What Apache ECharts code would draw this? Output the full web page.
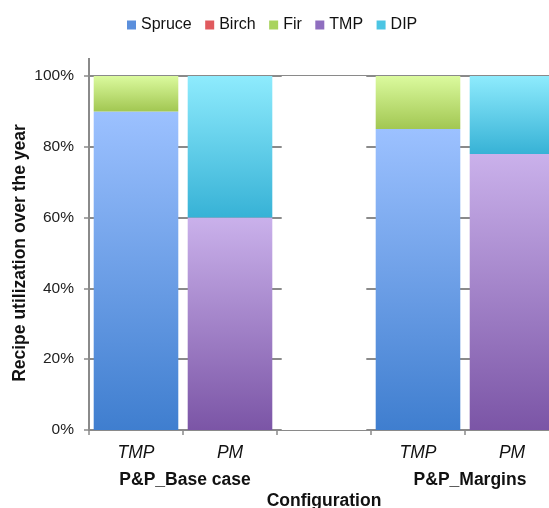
<!DOCTYPE html>
<html>
<head>
<meta charset="utf-8">
<script src="https://cdn.jsdelivr.net/npm/echarts@6/dist/echarts.min.js"></script>
<style>
  html, body { margin: 0; padding: 0; background: #fff; }
  #chart { width: 549px; height: 508px; }
</style>
</head>
<body>
<div id="chart"></div>
<script>
// Recipe utilization (% of the year) per configuration and pulp line
const categories = ['TMP', 'PM', '', 'TMP', 'PM'];
const spruce = [90, 0, 0, 85, 0];
const birch  = [0, 0, 0, 0, 0];
const fir    = [10, 0, 0, 15, 0];
const tmp    = [0, 60, 0, 0, 78];
const dip    = [0, 40, 0, 0, 22];
// blank column separating the two configurations
const spacer = [0, 0, 100, 0, 0];
const yTicks = [0, 20, 40, 60, 80, 100];
const groups = ['P&P_Base case', 'P&P_Margins'];

const FONT = '"Liberation Sans", Arial, sans-serif';

function grad(top, bottom) {
  return new echarts.graphic.LinearGradient(0, 0, 0, 1, [
    { offset: 0, color: top },
    { offset: 1, color: bottom }
  ]);
}

const shadow = { shadowBlur: 5, shadowColor: 'rgba(0,0,0,0.32)', shadowOffsetX: 0, shadowOffsetY: 0 };

function bar(name, data, top, bottom, withShadow) {
  return {
    name: name,
    type: 'bar',
    stack: 'total',
    barCategoryGap: '10%',
    data: data.map(v => (v === 0 ? null : v)),
    itemStyle: Object.assign({ color: grad(top, bottom) }, withShadow ? shadow : {}),
    emphasis: { disabled: true }
  };
}

const chart = echarts.init(document.getElementById('chart'), null, { renderer: 'canvas' });

const option = {
  animation: false,
  textStyle: { fontFamily: FONT },
  legend: {
    left: 122,
    top: 12,
    icon: 'rect',
    itemWidth: 9,
    itemHeight: 9,
    itemGap: 13.5,
    textStyle: { fontSize: 16, color: '#111', fontFamily: FONT },
    data: [
      { name: 'Spruce', itemStyle: { color: '#5b8fdc' } },
      { name: 'Birch',  itemStyle: { color: '#e05a5e' } },
      { name: 'Fir',    itemStyle: { color: '#a9d35e' } },
      { name: 'TMP',    itemStyle: { color: '#8f6ebf' } },
      { name: 'DIP',    itemStyle: { color: '#4cc5e3' } }
    ]
  },
  // the last column runs past the right edge of the canvas
  grid: { left: 89, right: -10, top: 76, bottom: 78, containLabel: false, outerBoundsMode: 'none' },
  xAxis: {
    type: 'category',
    data: categories,
    name: 'Configuration',
    nameLocation: 'middle',
    nameGap: 62,
    nameMoveOverlap: false,
    nameTextStyle: { fontSize: 17.5, fontWeight: 'bold', color: '#111', fontFamily: FONT, verticalAlign: 'top' },
    axisLine: { lineStyle: { color: '#8a8a8a', width: 2 } },
    axisTick: { show: true, length: 5, alignWithLabel: false, lineStyle: { color: '#8a8a8a', width: 1.5 } },
    axisLabel: { fontSize: 17.5, fontStyle: 'italic', color: '#111', margin: 14, fontFamily: FONT, interval: 0 }
  },
  yAxis: {
    type: 'value',
    min: 0,
    max: 100,
    interval: 20,
    name: 'Recipe utilization over the year',
    nameLocation: 'middle',
    nameGap: 60,
    nameMoveOverlap: false,
    nameRotate: 90,
    nameTextStyle: { fontSize: 17.5, fontWeight: 'bold', color: '#111', fontFamily: FONT },
    axisLine: { show: true, lineStyle: { color: '#8a8a8a', width: 2 } },
    axisTick: { show: true, length: 5, lineStyle: { color: '#8a8a8a', width: 1.5 } },
    axisLabel: { fontSize: 15.5, color: '#222', margin: 15, fontFamily: FONT,
                 formatter: v => (yTicks.indexOf(v) >= 0 ? v + '%' : '') },
    splitLine: { show: true, lineStyle: { color: '#8a8a8a', width: 2 } }
  },
  series: [
    bar('Spruce', spruce, '#9cc1ff', '#3f7ecf', true),
    bar('Birch',  birch,  '#f5a0a2', '#c9403f', true),
    bar('Fir',    fir,    '#dbfa9e', '#a2c752', true),
    bar('TMP',    tmp,    '#cab1eb', '#7b55a6', true),
    bar('DIP',    dip,    '#8eebfd', '#37b2d6', true),
    {
      name: 'spacer',
      type: 'bar',
      stack: 'total',
      barCategoryGap: '10%',
      data: spacer.map(v => (v === 0 ? null : v)),
      itemStyle: { color: '#ffffff' },
      emphasis: { disabled: true },
      silent: true
    }
  ]
};

chart.setOption(option);

// Axis line continues a little above the 100% line; group captions below the category labels
const topPt = chart.convertToPixel({ gridIndex: 0 }, [0, 100]);
const y0 = chart.convertToPixel({ yAxisIndex: 0 }, 0);
const x0 = chart.convertToPixel({ xAxisIndex: 0 }, 0);
const x1 = chart.convertToPixel({ xAxisIndex: 0 }, 1);
const x3 = chart.convertToPixel({ xAxisIndex: 0 }, 3);
const x4 = chart.convertToPixel({ xAxisIndex: 0 }, 4);
const axisX = 89;
const captionFont = 'bold 17.5px ' + FONT;

chart.setOption({
  graphic: [
    {
      type: 'line',
      shape: { x1: axisX, y1: topPt[1] - 18, x2: axisX, y2: topPt[1] },
      style: { stroke: '#8a8a8a', lineWidth: 2 },
      silent: true
    },
    {
      type: 'text',
      x: (x0 + x1) / 2 + 2,
      y: y0 + 50,
      style: { text: groups[0], fill: '#111', font: captionFont,
               textAlign: 'center', textVerticalAlign: 'middle' }
    },
    {
      type: 'text',
      x: (x3 + x4) / 2 + 5,
      y: y0 + 50,
      style: { text: groups[1], fill: '#111', font: captionFont,
               textAlign: 'center', textVerticalAlign: 'middle' }
    }
  ]
});
</script>
</body>
</html>
